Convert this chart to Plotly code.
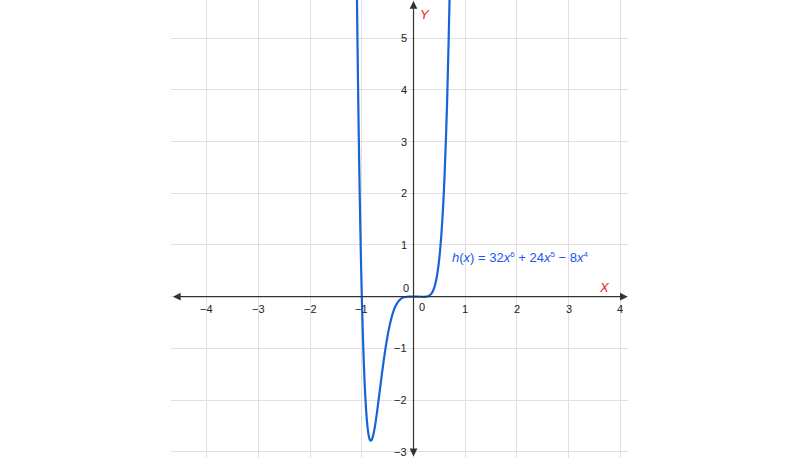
import plotly.graph_objects as go

# Values of h(x)
curve_x = [-1.12, -1.10, -1.08, -1.06, -1.04, -1.02, -1.00, -0.98, -0.96, -0.94,
           -0.92, -0.90, -0.88, -0.86, -0.84, -0.82, -0.80, -0.78, -0.76, -0.74,
           -0.72, -0.70, -0.66, -0.62, -0.58, -0.54, -0.50, -0.45, -0.40, -0.35,
           -0.30, -0.25, -0.20, -0.15, -0.10, 0.00, 0.10, 0.20, 0.25, 0.30,
           0.35, 0.40, 0.45, 0.50, 0.55, 0.60, 0.65, 0.70, 0.72]
curve_y = [8.278, 6.325, 4.632, 3.175, 1.932, 0.880, 0.000, -0.726, -1.316, -1.784,
           -2.146, -2.414, -2.602, -2.720, -2.779, -2.787, -2.753, -2.684, -2.588, -2.470,
           -2.336, -2.190, -1.879, -1.563, -1.262, -0.989, -0.750, -0.505, -0.320, -0.187,
           -0.100, -0.047, -0.018, -0.006, -0.001, 0.000, -0.001, -0.003, 0.000, 0.017,
           0.065, 0.172, 0.381, 0.750, 1.362, 2.322, 3.770, 5.878, 6.952]

x_ticks = [-4, -3, -2, -1, 1, 2, 3, 4]
x_tick_labels = ["\u22124", "\u22123", "\u22122", "\u22121", "1", "2", "3", "4"]
y_ticks = [-3, -2, -1, 1, 2, 3, 4, 5]
y_tick_labels = ["\u22123", "\u22122", "\u22121", "1", "2", "3", "4", "5"]

SUP = "<sup><span style='font-size:8px'>{}</span></sup>"
equation = ("<i>h</i>(<i>x</i>) = 32<i>x</i>" + SUP.format(6) + " + 24<i>x</i>" + SUP.format(5)
            + " \u2212 8<i>x</i>" + SUP.format(4))

X_MIN, X_MAX = -4.691, 4.149
Y_MIN, Y_MAX = -3.122, 5.741

fig = go.Figure()
fig.add_trace(go.Scatter(
    x=curve_x, y=curve_y, mode="lines",
    line=dict(color="#1565d6", width=2.2, shape="spline", smoothing=0.8),
    hoverinfo="skip", showlegend=False,
))

font = "Liberation Sans, Arial, sans-serif"
ann = []
# axes with arrows
ann.append(dict(x=4.145, y=0, ax=-4.683, ay=0, xref="x", yref="y", axref="x", ayref="y",
                showarrow=True, arrowhead=2, arrowside="end+start", arrowsize=1.3,
                arrowwidth=1.2, arrowcolor="#333333", text=""))
ann.append(dict(x=0, y=5.722, ax=0, ay=-3.12, xref="x", yref="y", axref="x", ayref="y",
                showarrow=True, arrowhead=2, arrowside="end+start", arrowsize=1.3,
                arrowwidth=1.2, arrowcolor="#333333", text=""))
for v, t in zip(x_ticks, x_tick_labels):
    ann.append(dict(x=v, y=0, xref="x", yref="y", text=t, showarrow=False,
                    yshift=-12, xanchor="center", yanchor="middle",
                    font=dict(family=font, size=11, color="#222222")))
for v, t in zip(y_ticks, y_tick_labels):
    ann.append(dict(x=0, y=v, xref="x", yref="y", text=t, showarrow=False,
                    xshift=-5, xanchor="right", yanchor="middle",
                    font=dict(family=font, size=11, color="#222222")))
ann.append(dict(x=0, y=0, xref="x", yref="y", text="0", showarrow=False,
                xshift=-8, yshift=9, xanchor="center", yanchor="middle",
                font=dict(family=font, size=11, color="#222222")))
ann.append(dict(x=0, y=0, xref="x", yref="y", text="0", showarrow=False,
                xshift=8, yshift=-10, xanchor="center", yanchor="middle",
                font=dict(family=font, size=11, color="#222222")))
ann.append(dict(x=0, y=0, xref="x", yref="y", text="<i>X</i>", showarrow=False,
                xshift=191, yshift=9, xanchor="center", yanchor="middle",
                font=dict(family=font, size=13, color="#e8202a")))
ann.append(dict(x=0, y=Y_MAX, xref="x", yref="y", text="<i>Y</i>", showarrow=False,
                xshift=11, yshift=-14, xanchor="center", yanchor="middle",
                font=dict(family=font, size=13, color="#e8202a")))
ann.append(dict(x=0.706, y=0.749, xref="x", yref="y", text=equation, showarrow=False,
                xanchor="left", yanchor="middle",
                font=dict(family=font, size=13, color="#2255ee")))

fig.update_layout(
    width=800, height=458,
    margin=dict(l=0, r=0, t=0, b=0),
    paper_bgcolor="white", plot_bgcolor="white",
    xaxis=dict(domain=[171 / 800, 628 / 800], range=[X_MIN, X_MAX], dtick=1, tick0=0,
               showgrid=True, gridcolor="#e0e0e0", gridwidth=1, zeroline=False,
               showticklabels=False, showline=False, fixedrange=True),
    yaxis=dict(domain=[0, 1], range=[Y_MIN, Y_MAX], dtick=1, tick0=0,
               showgrid=True, gridcolor="#e0e0e0", gridwidth=1, zeroline=False,
               showticklabels=False, showline=False, fixedrange=True),
    annotations=ann,
    showlegend=False,
)

fig.write_html(
    "out.html",
    config={"displayModeBar": False},
    post_script="document.body.style.margin='0';document.body.style.overflow='hidden';",
)
